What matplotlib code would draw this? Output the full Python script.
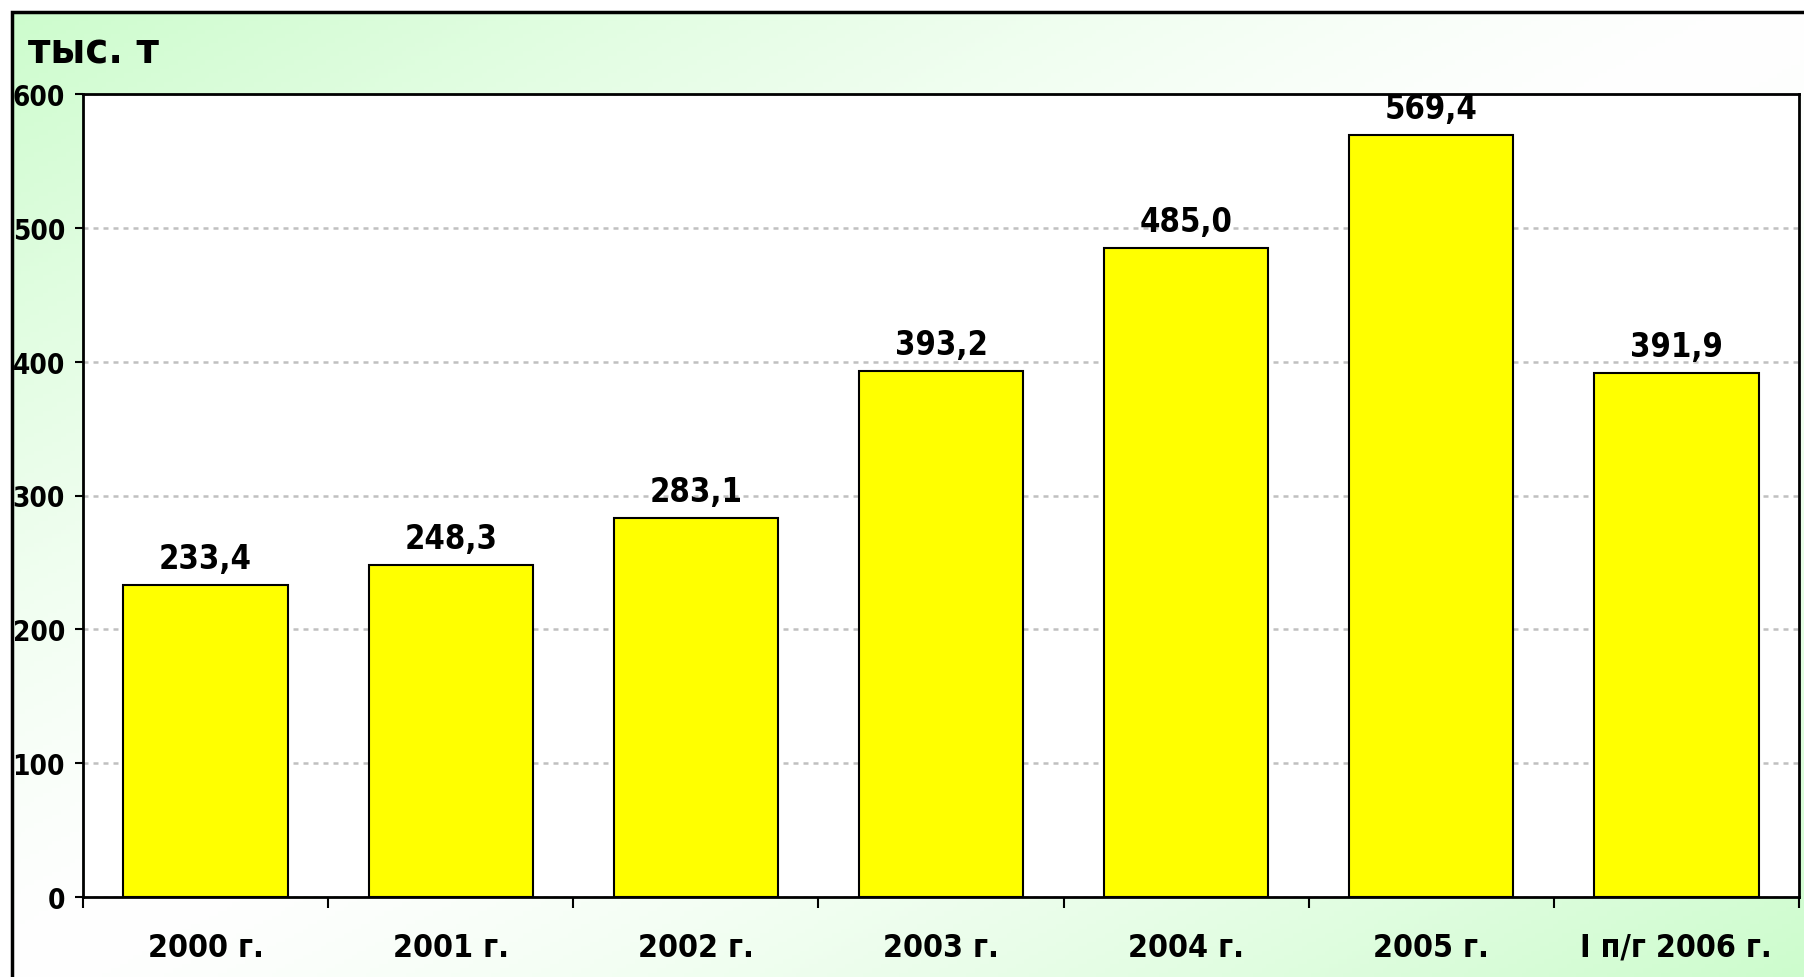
import matplotlib.pyplot as plt
import numpy as np
from matplotlib.patches import Rectangle

categories = ['2000 г.', '2001 г.', '2002 г.', '2003 г.', '2004 г.', '2005 г.', 'I п/г 2006 г.']
values = [233.4, 248.3, 283.1, 393.2, 485.0, 569.4, 391.9]
yticks = [0, 100, 200, 300, 400, 500, 600]
unit_label = 'тыс. т'

plt.rcParams['font.family'] = ['DejaVu Sans']
plt.rcParams['font.weight'] = 'bold'
plt.rcParams['font.stretch'] = 'condensed'

fig = plt.figure(figsize=(18.04, 9.78), dpi=100)

# background gradient (green top-left / bottom-right, white across the other diagonal)
fl, ft = 12 / 1804, 1 - 13 / 978
bg = fig.add_axes([fl, 0, 1 - fl, ft], zorder=-2)
u = np.linspace(0, 1, 400)
v = np.linspace(0, 1, 220)
U, V = np.meshgrid(u, v)
t = np.abs(U + V - 1) ** 1.3
green = np.array([205, 252, 205]) / 255
img = 1 - t[..., None] * (1 - green)
bg.imshow(img, aspect='auto', extent=(0, 1, 1, 0))
bg.set_axis_off()
fig.patches.append(Rectangle((fl, -0.1), 1.2, ft + 0.1, transform=fig.transFigure,
                             fill=False, edgecolor='black', linewidth=2.5, zorder=5))

ax = fig.add_axes([83 / 1804, 1 - 898 / 978, (1799 - 83) / 1804, (898 - 95) / 978])
ax.set_facecolor('white')
x = np.arange(len(categories))
bars = ax.bar(x, values, width=0.67, color='#ffff00', edgecolor='black', linewidth=1.5, zorder=3)
for xi, val in zip(x, values):
    ax.annotate(('%.1f' % val).replace('.', ','), (xi, val), xytext=(0, 7), textcoords='offset points',
                ha='center', va='bottom', fontsize=23.5, fontweight='bold', zorder=4)

ax.set_xlim(-0.5, len(categories) - 0.5)
ax.set_ylim(0, 600)
ax.set_yticks(yticks)
ax.set_yticklabels([str(t) for t in yticks], fontsize=20, fontweight='bold')
ax.tick_params(axis='y', length=6, width=1.5, pad=7)
ax.yaxis.grid(True, color='#c0c0c0', linestyle=(0, (2, 2)), linewidth=1.8, zorder=0)
ax.set_axisbelow(True)

ax.set_xticks(np.arange(len(categories) + 1) - 0.5)
ax.set_xticklabels([])
ax.tick_params(axis='x', which='major', length=8, width=1.5)
ax.set_xticks(x, minor=True)
ax.set_xticklabels(categories, minor=True, fontsize=23, fontweight='bold')
ax.tick_params(axis='x', which='minor', length=0, pad=25)

for s in ax.spines.values():
    s.set_linewidth(2)
    s.set_color('black')

fig.text(28 / 1804, 1 - 63 / 978, unit_label, fontsize=31, fontweight='bold', ha='left', va='baseline')

fig.savefig('out.png', dpi=100)
